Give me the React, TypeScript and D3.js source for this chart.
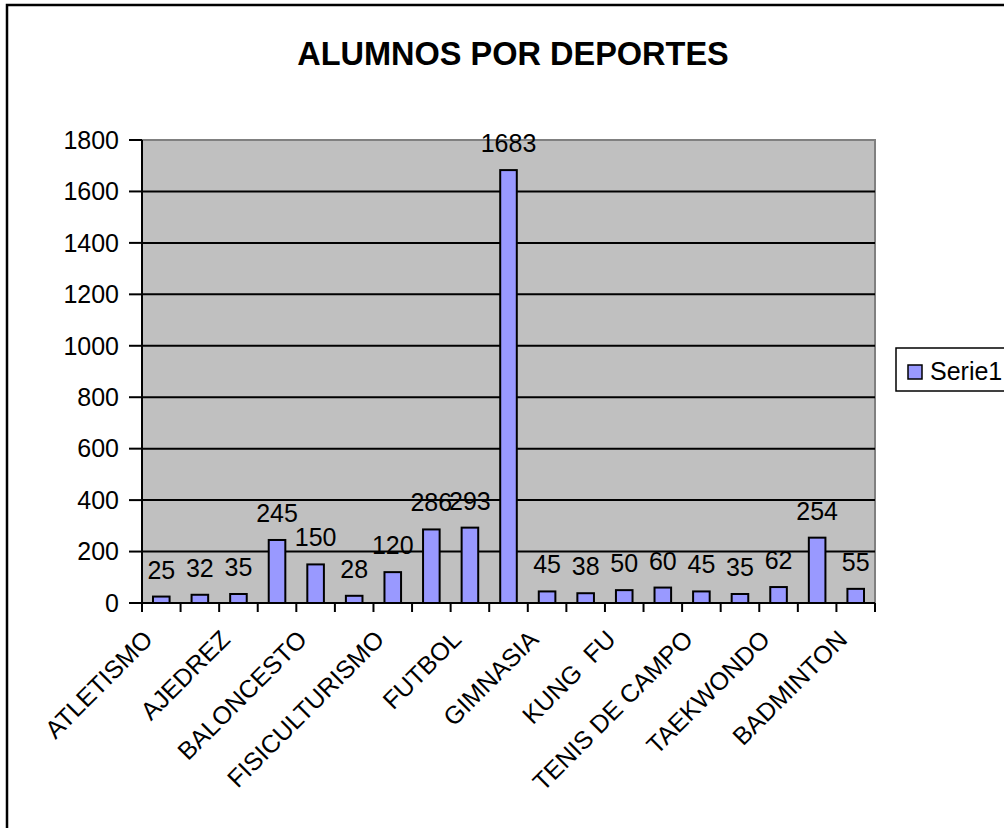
import React from "react";
import * as d3 from "d3";

const categories = [
  "ATLETISMO", "c2", "AJEDREZ", "c4", "BALONCESTO", "c6", "FISICULTURISMO", "c8",
  "FUTBOL", "c10", "GIMNASIA", "c12", "KUNG  FU", "c14", "TENIS DE CAMPO", "c16",
  "TAEKWONDO", "c18", "BADMINTON",
];
const shownLabels = [0, 2, 4, 6, 8, 10, 12, 14, 16, 18];
const values = [25, 32, 35, 245, 150, 28, 120, 286, 293, 1683, 45, 38, 50, 60, 45, 35, 62, 254, 55];
const yTicks = [0, 200, 400, 600, 800, 1000, 1200, 1400, 1600, 1800];
const title = "ALUMNOS POR DEPORTES";
const seriesName = "Serie1";

const W = 1004, H = 828;
const plot = { left: 142, right: 875, top: 140, bottom: 603 };
const FONT = "'Liberation Sans', Arial, sans-serif";
const FS = 25;

export default function App() {
  const x = d3.scaleBand<number>()
    .domain(d3.range(values.length))
    .range([plot.left, plot.right])
    .paddingInner(0.57)
    .paddingOuter(0.285);
  const step = (plot.right - plot.left) / values.length;
  const y = d3.scaleLinear().domain([0, 1800]).range([plot.bottom, plot.top]);

  return (
    <svg width={W} height={H} style={{ position: "absolute", left: 0, top: 0 }} fontFamily={FONT}>
      <rect x={0} y={0} width={W} height={H} fill="#fff" />
      {/* chart border */}
      <rect x={7} y={5} width={1100} height={900} fill="none" stroke="#000" strokeWidth={2.5} />
      {/* title */}
      <text x={513} y={65} textAnchor="middle" fontSize={32.5} fontWeight="bold">{title}</text>
      {/* plot area */}
      <rect x={plot.left} y={plot.top} width={plot.right - plot.left} height={plot.bottom - plot.top}
        fill="#C0C0C0" stroke="#808080" strokeWidth={2} />
      {/* gridlines */}
      {yTicks.slice(1, -1).map((t) => (
        <line key={t} x1={plot.left} x2={plot.right} y1={y(t)} y2={y(t)} stroke="#000" strokeWidth={2} />
      ))}
      {/* bars */}
      {values.map((v, i) => (
        <rect key={i} x={x(i)} y={y(v)} width={x.bandwidth()} height={plot.bottom - y(v)}
          fill="#9999FF" stroke="#000" strokeWidth={2} />
      ))}
      {/* data labels */}
      {values.map((v, i) => (
        <text key={i} x={(x(i) as number) + x.bandwidth() / 2} y={y(v) - 18} textAnchor="middle" fontSize={FS}>{v}</text>
      ))}
      {/* y axis */}
      <line x1={plot.left} x2={plot.left} y1={plot.top} y2={plot.bottom} stroke="#000" strokeWidth={2} />
      {yTicks.map((t) => (
        <g key={t}>
          <line x1={plot.left - 13} x2={plot.left} y1={y(t)} y2={y(t)} stroke="#000" strokeWidth={2} />
          <text x={119} y={y(t)} dy="0.35em" textAnchor="end" fontSize={FS}>{t}</text>
        </g>
      ))}
      {/* x axis */}
      <line x1={plot.left} x2={plot.right} y1={plot.bottom} y2={plot.bottom} stroke="#000" strokeWidth={2} />
      {d3.range(values.length + 1).map((i) => (
        <line key={i} x1={plot.left + i * step} x2={plot.left + i * step} y1={plot.bottom} y2={plot.bottom + 9}
          stroke="#000" strokeWidth={2} />
      ))}
      {shownLabels.map((i) => {
        const ax = plot.left + (i + 0.5) * step - 7;
        const ay = 641;
        return (
          <text key={i} x={ax} y={ay} textAnchor="end" fontSize={FS} style={{ whiteSpace: "pre" }}
            transform={`rotate(-45, ${ax}, ${ay})`}>{categories[i]}</text>
        );
      })}
      {/* legend */}
      <rect x={896} y={348} width={200} height={43} fill="#fff" stroke="#000" strokeWidth={1.5} />
      <rect x={908} y={365} width={14} height={14} fill="#9999FF" stroke="#000" strokeWidth={1.5} />
      <text x={930} y={380} fontSize={FS}>{seriesName}</text>
    </svg>
  );
}
